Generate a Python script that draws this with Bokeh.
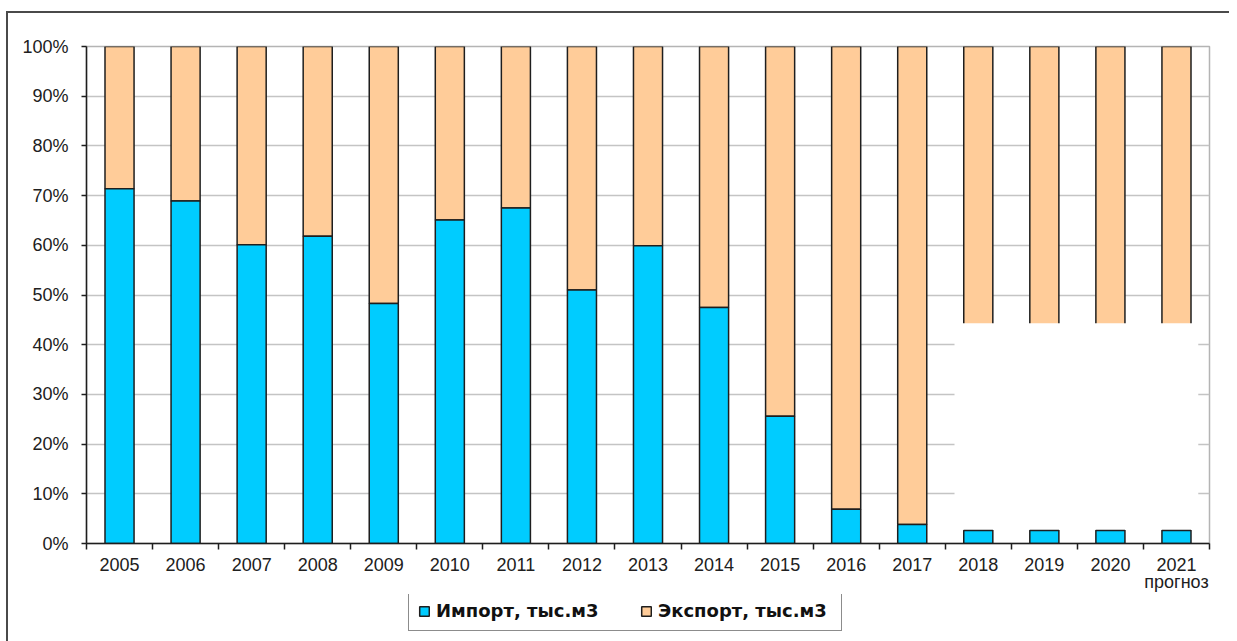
from bokeh.plotting import figure
from bokeh.layouts import column
from bokeh.models import Range1d, FixedTicker, Legend, LegendItem
from bokeh.embed import file_html
from bokeh.resources import INLINE

# ---- data (shares in %) ----
years = [2005, 2006, 2007, 2008, 2009, 2010, 2011, 2012, 2013, 2014,
         2015, 2016, 2017, 2018, 2019, 2020, 2021]
import_share = [71.4, 68.9, 60.1, 61.8, 48.3, 65.1, 67.5, 51.0, 59.9, 47.5,
                25.6, 6.9, 3.8, 2.6, 2.6, 2.6, 2.6]
export_share = [round(100 - v, 1) for v in import_share]
forecast_years = [2018, 2019, 2020, 2021]
hidden_top = 44.3          # upper edge of the blank (hidden) part of forecast bars
y_ticks = [0, 10, 20, 30, 40, 50, 60, 70, 80, 90, 100]
series_names = ["Импорт, тыс.м3", "Экспорт, тыс.м3"]
forecast_note = "прогноз"

IMPORT_COLOR = "#00CCFF"
EXPORT_COLOR = "#FFCC99"
LINE = "#1e1e1e"
FONT = "Liberation Sans"
NAN = float("nan")

W, H_MAIN, H_LEG = 1229, 594, 47
p = figure(width=W, height=H_MAIN, output_backend="svg", toolbar_location=None,
           x_range=Range1d(years[0] - 0.5, years[-1] + 0.5),
           y_range=Range1d(0, 100),
           min_border_left=86, min_border_right=20,
           min_border_top=46, min_border_bottom=H_MAIN - 543)

bottoms = import_share
tops = [i + e for i, e in zip(import_share, export_share)]
zeros = [0] * len(years)

r_exp = p.vbar(x=years, bottom=bottoms, top=tops, width=0.44,
               fill_color=EXPORT_COLOR, line_color=LINE, line_width=1.5)

# blank region over forecast bars (as in the source picture)
f_imp = [import_share[years.index(y)] for y in forecast_years]
p.quad(left=[min(forecast_years) - 0.36], right=[max(forecast_years) + 0.33],
       bottom=[max(f_imp)], top=[hidden_top],
       fill_color="white", line_color=None)

r_imp = p.vbar(x=years, bottom=zeros, top=import_share, width=0.44,
               fill_color=IMPORT_COLOR, line_color=LINE, line_width=1.5)

# axes
p.xaxis.ticker = FixedTicker(ticks=years,
                             minor_ticks=[y - 0.5 for y in years] + [years[-1] + 0.5])
labels = {y: str(y) for y in years}
labels[years[-1]] = f"{years[-1]}\n{forecast_note}"
p.xaxis.major_label_overrides = labels
p.xaxis.major_tick_out = 0
p.xaxis.major_tick_in = 0
p.xaxis.minor_tick_out = 6
p.xaxis.minor_tick_in = 0
p.xaxis.major_label_standoff = 5
p.xaxis.major_label_text_line_height = 0.85

p.yaxis.ticker = FixedTicker(ticks=y_ticks)
p.yaxis.major_label_overrides = {v: f"{v}%" for v in y_ticks}
p.yaxis.major_tick_out = 5
p.yaxis.major_tick_in = 0
p.yaxis.minor_tick_out = 0
p.yaxis.minor_tick_in = 0
p.yaxis.major_label_standoff = 13

for ax in (p.xaxis, p.yaxis):
    ax.axis_line_color = LINE
    ax.axis_line_width = 1.5
    ax.major_tick_line_color = LINE
    ax.major_tick_line_width = 1.5
    ax.minor_tick_line_color = LINE
    ax.minor_tick_line_width = 1.5
    ax.major_label_text_font = FONT
    ax.major_label_text_font_size = "18px"
    ax.major_label_text_color = "#202020"

p.xgrid.grid_line_color = None
p.ygrid.grid_line_color = "#c4c4c4"
p.ygrid.grid_line_width = 1.5
p.outline_line_color = "#b4b4b4"
p.outline_line_width = 1.5
p.background_fill_color = "white"
p.border_fill_alpha = 0

# ---- legend strip below the chart ----
pl = figure(width=W, height=H_LEG, output_backend="svg", toolbar_location=None,
            x_axis_location=None, y_axis_location=None,
            x_range=Range1d(0, 1), y_range=Range1d(0, 1),
            min_border=0, outline_line_color=None)
pl.grid.visible = False
pl.background_fill_alpha = 0
pl.border_fill_alpha = 0
# legend-only renderers (no visible marks)
li = pl.vbar(x=[NAN], top=[NAN], width=0.44, fill_color=IMPORT_COLOR,
             line_color=LINE, line_width=1.5)
le = pl.vbar(x=[NAN], top=[NAN], width=0.44, fill_color=EXPORT_COLOR,
             line_color=LINE, line_width=1.5)

legend = Legend(items=[LegendItem(label=series_names[0], renderers=[li]),
                       LegendItem(label=series_names[1], renderers=[le])],
                orientation="horizontal", location=(322, 10))
legend.label_text_font = "DejaVu Sans"
legend.label_text_font_size = "18px"
legend.label_text_font_style = "bold"
legend.label_text_color = "#111111"
legend.glyph_width = 12
legend.glyph_height = 12
legend.label_standoff = 6
legend.label_width = 174
legend.label_height = 20
legend.spacing = 30
legend.padding = 9
legend.margin = 0
legend.border_line_color = "#1a1a1a"
legend.border_line_width = 1.5
legend.background_fill_color = "white"
legend.background_fill_alpha = 1
pl.add_layout(legend, "center")

layout = column(p, pl, spacing=0)
layout.styles = {"box-shadow": "inset 6px 11px 0 0 #ffffff, inset 8px 13px 0 0 #4a4a4a"}

open("out.html", "w").write(file_html(layout, INLINE))
